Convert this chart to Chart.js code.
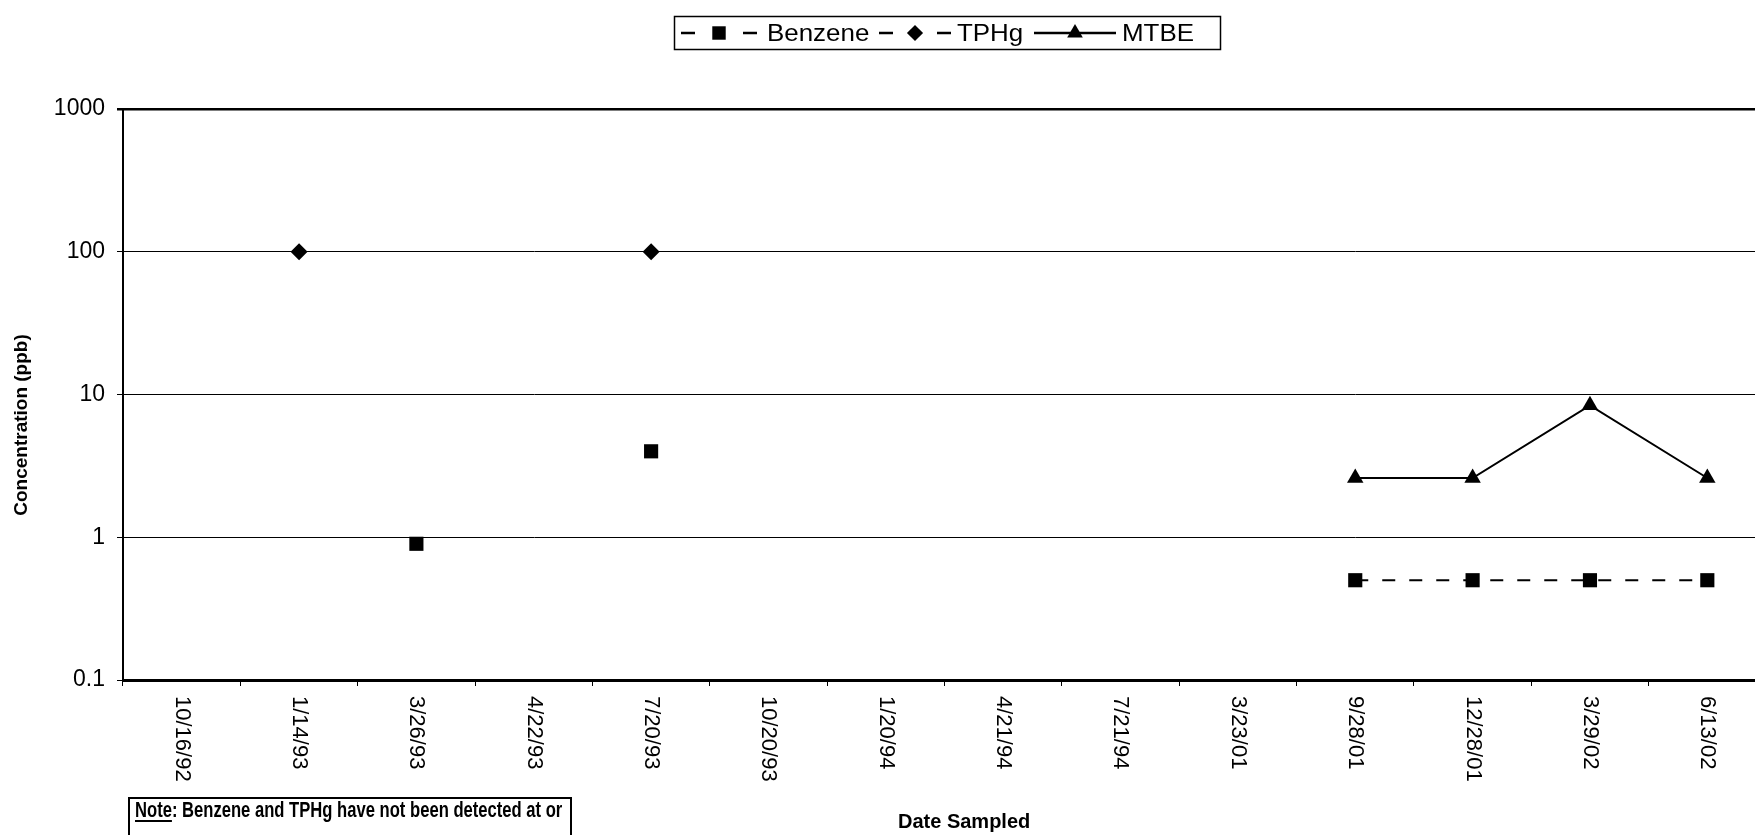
<!DOCTYPE html>
<html><head><meta charset="utf-8">
<script src="https://cdn.jsdelivr.net/npm/chart.js@4.4.1/dist/chart.umd.min.js"></script>
<style>
html,body{margin:0;padding:0;background:#fff;overflow:hidden;width:1755px;height:835px}
#wrap{position:absolute;left:0;top:0;width:1776px;height:835px}
</style></head><body>
<div id="wrap"><canvas id="c" width="1776" height="835"></canvas></div>
<script>
const categories = ['10/16/92','1/14/93','3/26/93','4/22/93','7/20/93','10/20/93','1/20/94','4/21/94','7/21/94','3/23/01','9/28/01','12/28/01','3/29/02','6/13/02'];
const benzene = [null,null,0.9,null,4.0,null,null,null,null,null,0.5,0.5,0.5,0.5];
const tphg = [null,100,null,null,100,null,null,null,null,null,null,null,null,null];
const mtbe = [null,null,null,null,null,null,null,null,null,null,2.6,2.6,8.4,2.6];
const yTicks = [0.1,1,10,100,1000];
const yTickLabels = ['0.1','1','10','100','1000'];
const seriesNames = ['Benzene','TPHg','MTBE'];
const yTitle = 'Concentration (ppb)';
const xTitle = 'Date Sampled';
const noteText = ['Note', ': Benzene and TPHg have not been detected at or'];

const FONT = '"Liberation Sans", Arial, sans-serif';

const deco = {
  id:'deco',
  afterDraw(chart){
    const ctx = chart.ctx, xs = chart.scales.x, ca = chart.chartArea;
    ctx.save();
    ctx.fillStyle='#000'; ctx.strokeStyle='#000';
    // x tick labels, rotated to read top-to-bottom
    ctx.font = '22px '+FONT;
    ctx.textAlign='left'; ctx.textBaseline='middle';
    categories.forEach((lab,i)=>{
      const x = xs.getPixelForValue(i);
      ctx.save(); ctx.translate(x, ca.bottom+16); ctx.rotate(Math.PI/2); ctx.fillText(lab,0,0); ctx.restore();
    });
    // y title
    ctx.font = 'bold 19px '+FONT;
    ctx.textAlign='center';
    ctx.save(); ctx.translate(22,425); ctx.rotate(-Math.PI/2); ctx.fillText(yTitle,0,0); ctx.restore();
    // x title
    ctx.font = 'bold 20px '+FONT;
    ctx.textAlign='left'; ctx.textBaseline='alphabetic';
    ctx.fillText(xTitle, 898, 828);
    // note box
    ctx.lineWidth=2;
    ctx.strokeRect(129, 798, 442, 60);
    ctx.save(); ctx.translate(135, 817); ctx.scale(0.755,1);
    ctx.font='bold 22px '+FONT;
    ctx.fillText(noteText[0],0,0);
    const w0 = ctx.measureText(noteText[0]).width;
    ctx.fillText(noteText[1], w0, 0);
    ctx.fillRect(0, 3, w0, 2);
    ctx.restore();
    // legend
    ctx.lineWidth=1.5;
    ctx.strokeRect(674.5,16.5,546,33);
    const ly = 33;
    const items = [
      {sx:681, len:76, tx:767},
      {sx:879, len:72, tx:957},
      {sx:1034, len:82, tx:1122}
    ];
    chart.data.datasets.forEach((ds,i)=>{
      const it = items[i];
      ctx.lineWidth = 2.5;
      ctx.setLineDash([]);
      ctx.beginPath();
      if (ds.borderDash && ds.borderDash.length) {
        ctx.moveTo(it.sx, ly); ctx.lineTo(it.sx+14, ly);
        ctx.moveTo(it.sx+it.len-14, ly); ctx.lineTo(it.sx+it.len, ly);
      } else {
        ctx.moveTo(it.sx, ly); ctx.lineTo(it.sx+it.len, ly);
      }
      ctx.stroke();
      Chart.helpers.drawPoint(ctx, {pointStyle: ds.pointStyle, radius: ds.pointRadius*0.95, rotation:0, borderWidth:0}, it.sx+it.len/2, ly);
      ctx.save(); ctx.translate(it.tx, ly); ctx.scale(1.08,1);
      ctx.font = '24px '+FONT; ctx.textBaseline='middle'; ctx.textAlign='left';
      ctx.fillText(ds.label, 0, 1);
      ctx.restore();
    });
    ctx.restore();
  }
};

new Chart(document.getElementById('c'), {
  type:'line',
  data:{labels:categories, datasets:[
    {label:seriesNames[0], data:benzene, borderColor:'#000', backgroundColor:'#000', borderWidth:2, borderDash:[13,14], pointStyle:'rect', pointRadius:10, pointBorderWidth:0, spanGaps:false},
    {label:seriesNames[1], data:tphg, borderColor:'#000', backgroundColor:'#000', borderWidth:2, borderDash:[13,14], pointStyle:'rectRot', pointRadius:8.5, pointBorderWidth:0, spanGaps:false},
    {label:seriesNames[2], data:mtbe, borderColor:'#000', backgroundColor:'#000', borderWidth:2, borderDash:[], pointStyle:'triangle', pointRadius:9.5, pointBorderWidth:0, spanGaps:false}
  ]},
  options:{
    responsive:false, animation:false,
    layout:{padding:{top:109,left:0,right:0,bottom:0}},
    plugins:{legend:{display:false}, tooltip:{enabled:false}},
    scales:{
      x:{type:'category', offset:true,
         grid:{offset:true, drawOnChartArea:false, drawTicks:true, tickLength:6, color:'#000', lineWidth:1},
         border:{display:true,color:'#000',width:3},
         ticks:{display:false},
         afterFit(s){s.height=155;}},
      y:{type:'logarithmic', min:0.1, max:1000,
         afterBuildTicks(s){s.ticks=yTicks.map(v=>({value:v}));},
         ticks:{color:'#000', font:{family:FONT,size:23}, padding:12, autoSkip:false, callback(v,i){return yTickLabels[i];}},
         grid:{color:'#000', lineWidth(c){return c.tick && c.tick.value===1000?2.5:1;}, tickLength:6, drawTicks:true},
         border:{display:true,color:'#000',width:2},
         afterFit(s){s.width=123;}}
    }
  },
  plugins:[deco]
});
</script>
</body></html>
